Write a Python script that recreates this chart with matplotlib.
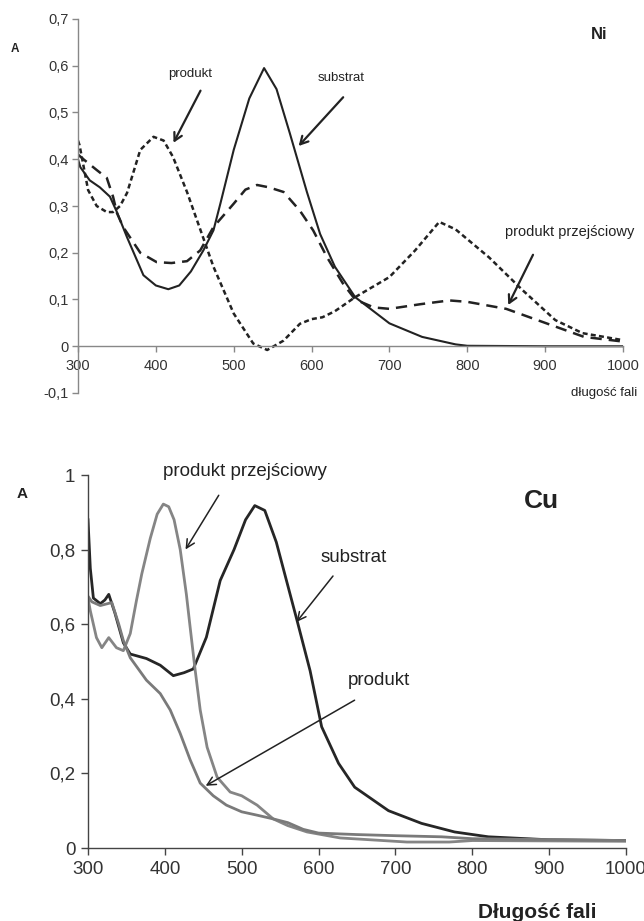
import matplotlib
matplotlib.use("Agg")
import matplotlib.pyplot as plt
from matplotlib.ticker import FuncFormatter

plt.rcParams['font.family'] = ['Liberation Sans', 'DejaVu Sans']

# ---------------- Ni panel data ----------------
ni_sub_wl = [300, 303, 315, 328, 341, 350, 363, 384, 400, 416, 430, 445, 461, 474, 483, 500, 520, 539, 555, 572, 594, 611, 630, 656, 700, 742, 785, 800, 900, 1000]
ni_sub_a  = [0.40, 0.383, 0.355, 0.34, 0.32, 0.287, 0.233, 0.152, 0.13, 0.122, 0.13, 0.16, 0.205, 0.248, 0.306, 0.42, 0.53, 0.595, 0.55, 0.456, 0.33, 0.24, 0.17, 0.105, 0.049, 0.02, 0.004, 0.001, 0.0, 0.0]

ni_int_wl = [300, 307, 324, 337, 345, 350, 358, 380, 401, 420, 440, 457, 474, 500, 515, 530, 545, 564, 585, 602, 620, 640, 656, 680, 700, 740, 777, 800, 850, 900, 950, 1000]
ni_int_a  = [0.41, 0.40, 0.377, 0.36, 0.32, 0.285, 0.255, 0.20, 0.18, 0.178, 0.182, 0.205, 0.255, 0.305, 0.335, 0.345, 0.34, 0.33, 0.29, 0.248, 0.19, 0.135, 0.10, 0.083, 0.08, 0.09, 0.098, 0.095, 0.08, 0.05, 0.02, 0.01]

ni_prod_wl = [300, 302, 313, 324, 337, 345, 354, 363, 380, 397, 410, 422, 440, 457, 474, 500, 525, 543, 564, 585, 600, 614, 630, 656, 700, 733, 764, 785, 828, 871, 913, 948, 1000]
ni_prod_a  = [0.44, 0.43, 0.334, 0.30, 0.287, 0.287, 0.30, 0.328, 0.42, 0.448, 0.44, 0.405, 0.33, 0.25, 0.17, 0.07, 0.006, -0.008, 0.012, 0.048, 0.058, 0.062, 0.075, 0.105, 0.148, 0.205, 0.266, 0.25, 0.19, 0.12, 0.056, 0.028, 0.013]

ni_xticks = [300, 400, 500, 600, 700, 800, 900, 1000]
ni_yticks = [-0.1, 0, 0.1, 0.2, 0.3, 0.4, 0.5, 0.6, 0.7]

# ---------------- Cu panel data ----------------
cu_sub_wl = [300, 303, 307, 316, 322, 327, 335, 346, 355, 376, 394, 411, 425, 437, 454, 472, 490, 505, 517, 530, 545, 554, 572, 589, 604, 626, 647, 691, 734, 777, 821, 900, 1000]
cu_sub_a  = [0.88, 0.75, 0.67, 0.655, 0.665, 0.68, 0.63, 0.55, 0.52, 0.508, 0.49, 0.462, 0.47, 0.48, 0.565, 0.717, 0.80, 0.88, 0.918, 0.905, 0.82, 0.75, 0.61, 0.475, 0.325, 0.227, 0.163, 0.10, 0.066, 0.043, 0.03, 0.022, 0.02]

cu_int_wl = [300, 303, 311, 318, 327, 337, 346, 355, 363, 370, 381, 390, 398, 405, 412, 420, 428, 433, 439, 446, 455, 468, 485, 500, 520, 541, 560, 585, 628, 715, 770, 800, 1000]
cu_int_a  = [0.67, 0.636, 0.564, 0.537, 0.564, 0.537, 0.529, 0.575, 0.663, 0.735, 0.83, 0.895, 0.922, 0.915, 0.88, 0.80, 0.68, 0.59, 0.484, 0.37, 0.27, 0.19, 0.15, 0.14, 0.115, 0.078, 0.06, 0.043, 0.027, 0.016, 0.016, 0.02, 0.018]

cu_prod_wl = [300, 305, 316, 331, 340, 346, 355, 376, 394, 407, 420, 433, 446, 463, 480, 500, 520, 541, 560, 580, 600, 650, 700, 760, 800, 1000]
cu_prod_a  = [0.675, 0.66, 0.65, 0.658, 0.60, 0.556, 0.51, 0.45, 0.414, 0.37, 0.307, 0.236, 0.174, 0.14, 0.115, 0.097, 0.088, 0.078, 0.068, 0.05, 0.04, 0.036, 0.033, 0.03, 0.025, 0.02]

cu_xticks = [300, 400, 500, 600, 700, 800, 900, 1000]
cu_yticks = [0, 0.2, 0.4, 0.6, 0.8, 1.0]


def comma_fmt(v, pos=None):
    if abs(v) < 1e-9:
        return "0"
    if abs(v - round(v)) < 1e-9:
        return str(int(round(v)))
    return f"{v:.1f}".replace('.', ',')


W, H = 644, 921
fig = plt.figure(figsize=(W / 100, H / 100), dpi=100)

# ---------------- Ni axes ----------------
ax1 = fig.add_axes([78 / W, 1 - 393 / H, (623 - 78) / W, (393 - 19) / H])
ink = '#222222'
ax1.plot(ni_sub_wl, ni_sub_a, color=ink, lw=1.5, ls='-')
ax1.plot(ni_int_wl, ni_int_a, color=ink, lw=1.8, ls=(0, (4.5, 2.8)))
ax1.plot(ni_prod_wl, ni_prod_a, color=ink, lw=1.8, ls=(0, (2.0, 1.3)))
ax1.set_xlim(300, 1000)
ax1.set_ylim(-0.1, 0.7)
ax1.spines['top'].set_visible(False)
ax1.spines['right'].set_visible(False)
ax1.spines['bottom'].set_position(('data', 0))
for s in ('left', 'bottom'):
    ax1.spines[s].set_color('#888888')
    ax1.spines[s].set_linewidth(1.0)
ax1.set_xticks(ni_xticks)
ax1.set_yticks(ni_yticks)
ax1.xaxis.set_major_formatter(FuncFormatter(comma_fmt))
ax1.yaxis.set_major_formatter(FuncFormatter(comma_fmt))
ax1.tick_params(axis='both', direction='out', length=4, width=1, color='#888888',
                labelsize=10.5, labelcolor='#333333', pad=3)
ax1.tick_params(axis='x', pad=5)

ann_kw1 = dict(arrowprops=dict(arrowstyle='->,head_length=0.55,head_width=0.3', color=ink, lw=1.6))
tfs1 = 9.5
ax1.text(444, 0.582, 'produkt', fontsize=tfs1, color='#222222', ha='center', va='center')
ax1.annotate('', xy=(421, 0.43), xytext=(459, 0.552), **ann_kw1)
ax1.text(638, 0.574, 'substrat', fontsize=tfs1, color='#222222', ha='center', va='center')
ax1.annotate('', xy=(581, 0.424), xytext=(643, 0.537), **ann_kw1)
ax1.text(932, 0.244, 'produkt przejściowy', fontsize=10.5, color='#222222', ha='center', va='center')
ax1.annotate('', xy=(851, 0.083), xytext=(886, 0.201), **ann_kw1)
ax1.text(969, 0.666, 'Ni', fontsize=12, fontweight='bold', color='#222222', ha='center', va='center')

fig.text(15 / W, 1 - 49 / H, 'A', fontsize=8.5, fontweight='bold', color='#222222', ha='center', va='center')
fig.text(604 / W, 1 - 393 / H, 'długość fali', fontsize=9.5, color='#222222', ha='center', va='center')

# ---------------- Cu axes ----------------
ax2 = fig.add_axes([88 / W, 1 - 848 / H, (626 - 88) / W, (848 - 475) / H])
ax2.plot(cu_sub_wl, cu_sub_a, color='#262626', lw=2.0)
ax2.plot(cu_int_wl, cu_int_a, color='#858585', lw=2.0)
ax2.plot(cu_prod_wl, cu_prod_a, color='#7a7a7a', lw=2.0)
ax2.set_xlim(300, 1000)
ax2.set_ylim(0, 1.0)
ax2.spines['top'].set_visible(False)
ax2.spines['right'].set_visible(False)
for s in ('left', 'bottom'):
    ax2.spines[s].set_color('#444444')
    ax2.spines[s].set_linewidth(1.0)
ax2.set_xticks(cu_xticks)
ax2.set_yticks(cu_yticks)
ax2.xaxis.set_major_formatter(FuncFormatter(comma_fmt))
ax2.yaxis.set_major_formatter(FuncFormatter(comma_fmt))
ax2.tick_params(axis='both', direction='out', length=5, width=1, color='#444444',
                labelsize=13.5, labelcolor='#333333', pad=4)

ann_kw2 = dict(arrowprops=dict(arrowstyle='->,head_length=0.6,head_width=0.3', color='#222222', lw=1.1))
tfs2 = 13.5
ax2.text(504, 1.01, 'produkt przejściowy', fontsize=tfs2, color='#222222', ha='center', va='center')
ax2.annotate('', xy=(425, 0.794), xytext=(472, 0.952), **ann_kw2)
ax2.text(645, 0.78, 'substrat', fontsize=tfs2, color='#222222', ha='center', va='center')
ax2.annotate('', xy=(569, 0.60), xytext=(621, 0.735), **ann_kw2)
ax2.text(678, 0.449, 'produkt', fontsize=tfs2, color='#222222', ha='center', va='center')
ax2.annotate('', xy=(450, 0.163), xytext=(650, 0.40), **ann_kw2)
ax2.text(890, 0.93, 'Cu', fontsize=19, fontweight='bold', color='#222222', ha='center', va='center')

fig.text(22 / W, 1 - 494 / H, 'A', fontsize=11, fontweight='bold', color='#222222', ha='center', va='center')
fig.text(537 / W, 1 - 912 / H, 'Długość fali', fontsize=15, fontweight='bold', color='#222222', ha='center', va='center')

fig.savefig('out.png', dpi=100, facecolor='white')
